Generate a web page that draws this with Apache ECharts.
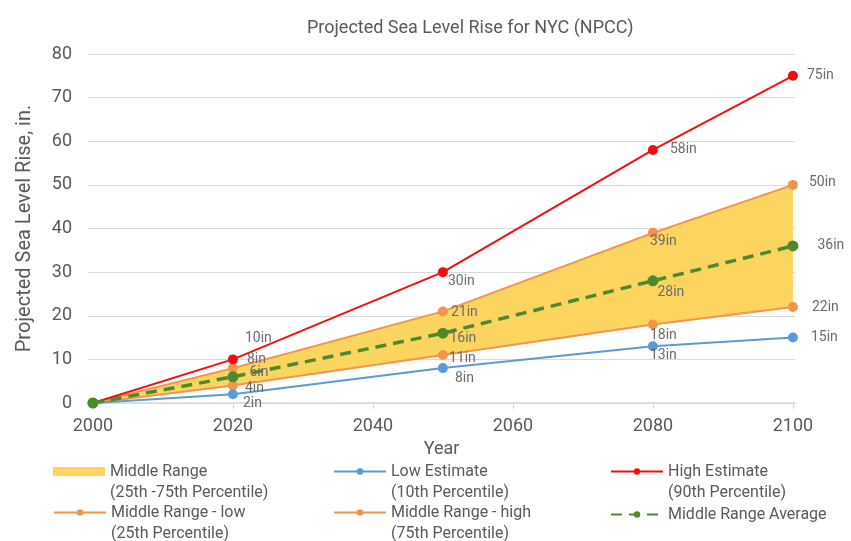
<!DOCTYPE html>
<html>
<head>
<meta charset="utf-8">
<script src="https://cdn.jsdelivr.net/npm/echarts@6/dist/echarts.min.js"></script>
<style>html,body{margin:0;padding:0;background:#fff}#c{width:851px;height:541px}</style>
</head>
<body>
<div id="c"></div>
<script>
// ---- data ----
const years = [2000, 2020, 2050, 2080, 2100];
const xTickLabels = [2000, 2020, 2040, 2060, 2080, 2100];
const lowEstimate = [0, 2, 8, 13, 15];        // 10th percentile
const midLow = [0, 4, 11, 18, 22];            // 25th percentile
const midAverage = [0, 6, 16, 28, 36];        // middle range average
const midHigh = [0, 8, 21, 39, 50];           // 75th percentile
const highEstimate = [0, 10, 30, 58, 75];     // 90th percentile

// ---- styling / layout helpers ----
const FONT = 'Roboto, "Liberation Sans", sans-serif';
const TXT = '#595959';
const LBL = '#6b6b6b';
const RED = '#f20f0f', ORANGE = '#f4944c', BLUE = '#5b9bd5', GREEN = '#4d8a2e', YELLOW = '#fcd560';

const labelOffsets = {
  high: [null, [2, -21], [-5, 9], [7, 0], [4, 0]],
  midHigh: [null, [4, -9], [-2, 1], [-13, 9], [6, -2]],
  avg: [null, [6, -4], [-4, 5], [-6, 12], [14, 0]],
  midLow: [null, [2, 3], [-4, 3], [-13, 11], [9, 0]],
  low: [null, [0, 9], [2, 10], [-13, 9], [8, 0]]
};

function pts(vals, offKey) {
  return years.map((y, i) => {
    const item = { value: [y, vals[i]] };
    const o = labelOffsets[offKey][i];
    item.label = o ? { show: true, offset: o } : { show: false };
    return item;
  });
}

function lineSeries(name, vals, color, offKey, extra) {
  return Object.assign({
    name: name,
    type: 'line',
    data: pts(vals, offKey),
    symbol: 'circle',
    symbolSize: 10,
    showAllSymbol: true,
    lineStyle: { color: color, width: 2 },
    itemStyle: { color: color },
    label: {
      show: true, position: 'right', distance: 5,
      formatter: p => p.value[1] + 'in',
      color: LBL, fontSize: 14, fontFamily: FONT
    },
    emphasis: { disabled: true },
    z: 3
  }, extra || {});
}

const bandData = years.map((y, i) => [y, midLow[i], midHigh[i]]);

const series = [
  {
    name: 'Middle Range', type: 'custom',
    data: bandData,
    encode: { x: 0, y: [1, 2] },
    itemStyle: { color: YELLOW },
    silent: true, z: 1,
    renderItem: function (params, api) {
      if (params.dataIndex !== 0) return null;
      const top = bandData.map(d => api.coord([d[0], d[2]]));
      const bottom = bandData.map(d => api.coord([d[0], d[1]])).reverse();
      return {
        type: 'polygon',
        shape: { points: top.concat(bottom) },
        style: { fill: YELLOW }
      };
    }
  },
  lineSeries('Middle Range - low', midLow, ORANGE, 'midLow'),
  lineSeries('Middle Range - high', midHigh, ORANGE, 'midHigh'),
  lineSeries('Low Estimate', lowEstimate, BLUE, 'low'),
  lineSeries('High Estimate', highEstimate, RED, 'high'),
  lineSeries('Middle Range Average', midAverage, GREEN, 'avg', {
    symbolSize: 11,
    lineStyle: { color: GREEN, width: 3.5, type: [11, 7] }
  })
];

const legendText = {
  'Middle Range': '(25th -75th Percentile)',
  'Low Estimate': '(10th Percentile)',
  'High Estimate': '(90th Percentile)',
  'Middle Range - low': '(25th Percentile)',
  'Middle Range - high': '(75th Percentile)',
  'Middle Range Average': null
};

function legend(name, left, top, icon) {
  const two = legendText[name] !== null;
  const lg = {
    data: [name], left: left, top: top, padding: 0,
    selectedMode: false,
    itemWidth: 52, itemHeight: icon ? 9 : 8,
    formatter: n => two ? '\n' + n + '\n' + legendText[n] : n,
    textStyle: { color: TXT, fontSize: 16, fontFamily: FONT, lineHeight: 21 }
  };
  if (icon) { lg.icon = icon; lg.itemStyle = { color: YELLOW }; }
  return lg;
}

const option = {
  backgroundColor: '#fff',
  animation: false,
  title: {
    text: 'Projected Sea Level Rise for NYC (NPCC)',
    left: 302, top: 14,
    textStyle: { color: TXT, fontSize: 18, fontWeight: 'normal', fontFamily: FONT }
  },
  grid: { left: 88, right: 56, top: 54, bottom: 138 },
  xAxis: {
    type: 'value', min: 1999.3, max: 2100.3,
    name: 'Year', nameLocation: 'middle', nameGap: 37,
    nameTextStyle: { color: TXT, fontSize: 18, fontFamily: FONT },
    axisLine: { show: true, lineStyle: { color: '#d9d9d9', width: 1.5 } },
    axisTick: { show: true, length: 6, lineStyle: { color: '#d9d9d9' }, customValues: xTickLabels },
    axisLabel: { color: TXT, fontSize: 18, fontFamily: FONT, margin: 14, customValues: xTickLabels,
      formatter: v => String(Math.round(v)) },
    splitLine: { show: false }
  },
  yAxis: {
    type: 'value', min: 0, max: 80, interval: 10,
    name: 'Projected Sea Level Rise, in.', nameLocation: 'middle', nameGap: 53,
    nameTextStyle: { color: TXT, fontSize: 20, fontFamily: FONT },
    axisLine: { show: false }, axisTick: { show: false },
    axisLabel: { color: TXT, fontSize: 18, fontFamily: FONT, margin: 16 },
    splitLine: { lineStyle: { color: '#d9d9d9', width: 1 } }
  },
  legend: [
    legend('Middle Range', 53, 440, 'rect'),
    legend('Low Estimate', 333, 440),
    legend('High Estimate', 610, 440),
    legend('Middle Range - low', 53, 481),
    legend('Middle Range - high', 333, 481),
    legend('Middle Range Average', 610, 504)
  ],
  series: series
};

const chart = echarts.init(document.getElementById('c'), null, { renderer: 'canvas' });
chart.setOption(option);
</script>
</body>
</html>
